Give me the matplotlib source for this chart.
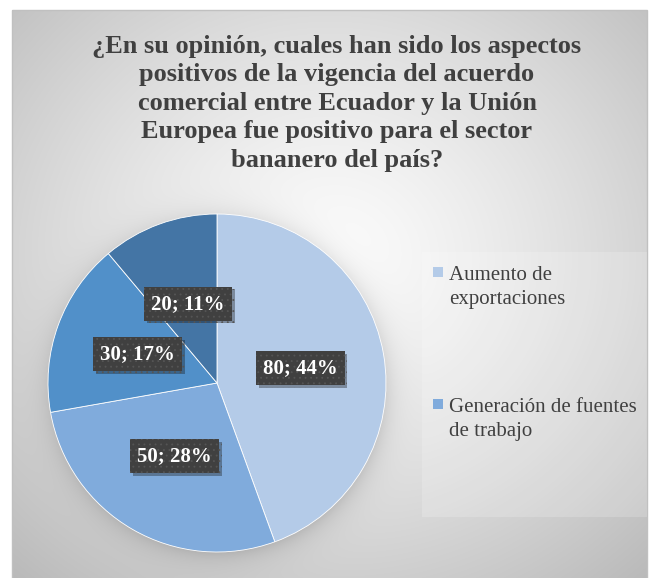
import numpy as np
import matplotlib
matplotlib.use("Agg")
import matplotlib.pyplot as plt
import matplotlib.patheffects as pe
from matplotlib.patches import Rectangle

# data
values = [80, 50, 30, 20]
legend_labels = ["Aumento de\nexportaciones", "Generación de fuentes\nde trabajo"]
colors = ["#b4cbe8", "#80abdc", "#5190c9", "#4475a5"]
title = ("¿En su opinión, cuales han sido los aspectos\n"
         "positivos de la vigencia del acuerdo\n"
         "comercial entre Ecuador y la Unión\n"
         "Europea fue positivo para el sector\n"
         "bananero del país?")

W, H, DPI = 649, 578, 100
SERIF = "Liberation Serif"
plt.rcParams["hatch.color"] = "#555555"
plt.rcParams["hatch.linewidth"] = 0.6

fig = plt.figure(figsize=(W / DPI, H / DPI), dpi=DPI)
fig.patch.set_facecolor("white")

# radial gradient background with a soft pie shadow (pixel coords, y down)
cx, cy, R = 217, 383, 169
bg = fig.add_axes([0, 0, 1, 1])
yy, xx = np.mgrid[0:H, 0:W] + 0.5
t = np.sqrt(((xx - 330) / 318) ** 2 + ((yy - 260) / 290) ** 2)
shade = 252 - 40 * t ** 1.3
d = np.hypot(xx - cx - 2, yy - cy - 3)
shade -= 30 * np.exp(-np.clip(d - R + 3, 0, None) / 12)
img = np.dstack([np.clip(shade, 0, 255) / 255] * 3)
img[(xx < 12) | (xx > 647) | (yy < 10)] = 1.0
bg.imshow(img, extent=[0, W, H, 0], interpolation="bilinear")
bg.add_patch(Rectangle((12, 10), 635, 575, fill=False, edgecolor="#c0c0c0", lw=1))
bg.add_patch(Rectangle((422, 252), 225, 265, facecolor="white", alpha=0.18, lw=0))
bg.set_xlim(0, W)
bg.set_ylim(H, 0)
bg.axis("off")

# pie
ax = fig.add_axes([(cx - R) / W, 1 - (cy + R) / H, 2 * R / W, 2 * R / H])
total = sum(values)
wedges, texts, autotexts = ax.pie(
    values, colors=colors, startangle=90, counterclock=False,
    autopct=lambda p: f"{round(p * total / 100)}; {p:.0f}%",
    pctdistance=0.5,
    wedgeprops=dict(edgecolor="white", linewidth=0.6),
)
ax.set_xlim(-1, 1)
ax.set_ylim(-1, 1)
for at in autotexts:
    at.set(color="white", fontsize=15, fontweight="bold", family=SERIF)
    at.set_bbox(dict(boxstyle="square,pad=0.34", facecolor="#404040",
                     edgecolor="#555555", linewidth=0, hatch="..."))
    at.get_bbox_patch().set_path_effects(
        [pe.SimplePatchShadow(offset=(2, -2), alpha=0.35), pe.Normal()])

# title
fig.text(337 / W, 1 - 35 / H, title, ha="center", va="top", fontsize=19,
         fontweight="bold", color="#404040", family=SERIF, linespacing=1.3)

# legend (only the first two entries are shown in the reference)
for i, lab in enumerate(legend_labels):
    ytop = [267, 399][i]
    bg.add_patch(Rectangle((433, ytop), 10, 10, facecolor=colors[i], lw=0))
    bg.text(449, ytop - 1, lab, ha="left", va="top", fontsize=15,
            color="#404040", family=SERIF, linespacing=1.35)

fig.savefig("out.png", dpi=DPI)
